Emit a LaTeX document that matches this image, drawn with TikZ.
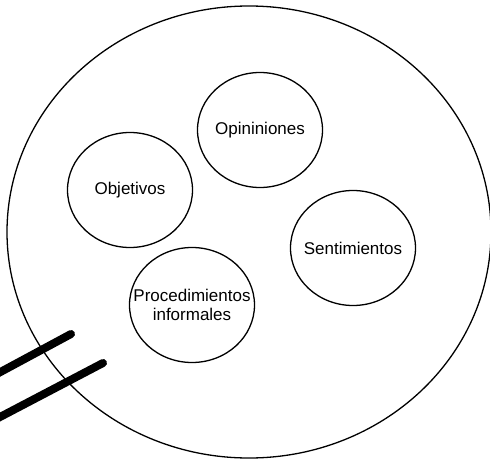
\documentclass[tikz,border=0pt]{standalone}
\usepackage{fontspec}
\setmainfont{Liberation Sans}
\usetikzlibrary{shapes.geometric}
\tikzset{
  field/.style={ellipse,draw,line width=1.3pt,minimum width=484pt,minimum height=452pt,inner sep=0pt},
  bubble/.style={ellipse,draw,line width=1.3pt,minimum width=125pt,minimum height=115pt,inner sep=0pt},
  caption/.style={align=center,font=\fontsize{17}{19.5}\selectfont,inner sep=0pt},
  bar/.style={line width=8pt,line cap=round}
}
\begin{document}
\begin{tikzpicture}[x=1pt,y=-1pt]
      \clip (0,0) rectangle (490,460);

      \node[field] (group) at (249,232) {};

      \node[bubble] (opin) at (260,130) {};
      \node[bubble] (obj) at (130,190) {};
      \node[bubble] (sent) at (353,248) {};
      \node[bubble] (proc) at (192,305) {};

      \node[caption] (opin-txt) at (opin) {Opininiones};
      \node[caption] (obj-txt) at (obj) {Objetivos};
      \node[caption] (sent-txt) at (sent) {Sentimientos};
      \node[caption] (proc-txt) at (proc) {Procedimientos\\informales};

      % the two bars entering from the left
      \coordinate (bar1a) at (-20,383);
      \coordinate (bar1b) at (71,334);
      \coordinate (bar2a) at (-20,427.5);
      \coordinate (bar2b) at (103,363);
      \draw[bar] (bar1a) -- (bar1b);
      \draw[bar] (bar2a) -- (bar2b);
\end{tikzpicture}
\end{document}
